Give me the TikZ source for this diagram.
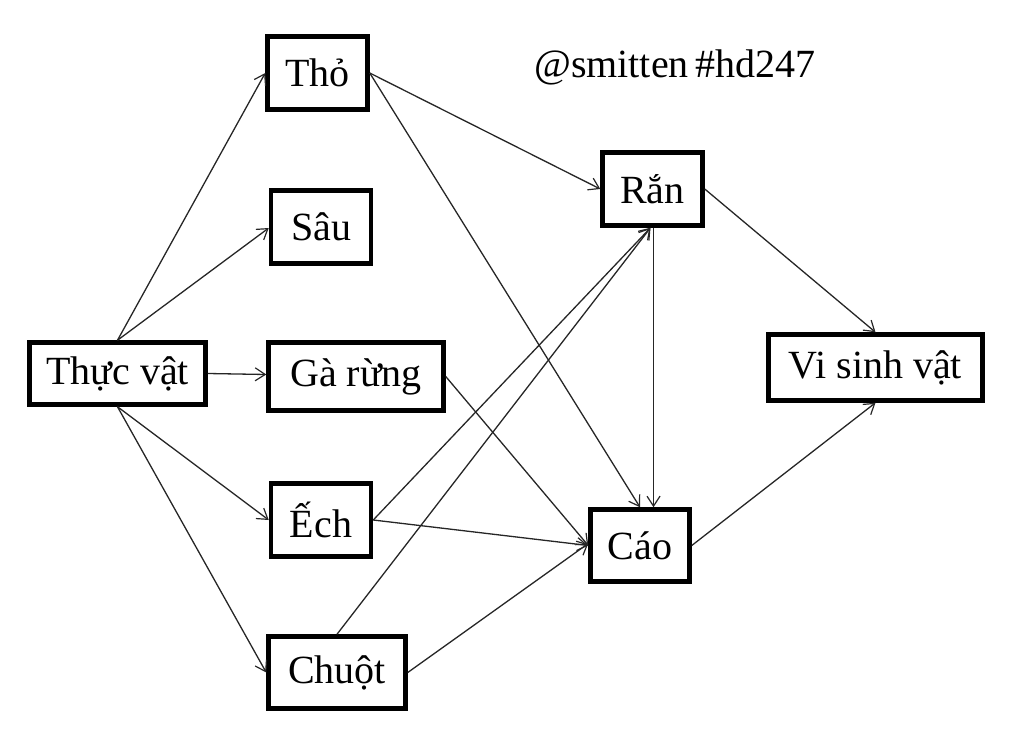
\documentclass[tikz,border=0pt]{standalone}
\usepackage{fontspec}
\setmainfont{Liberation Serif}
\usetikzlibrary{arrows.meta}
\begin{document}
\begin{tikzpicture}[x=1pt,y=-1pt,
  box/.style={draw=black,line width=4.5pt,rectangle,inner sep=0pt,
    font=\fontsize{40}{48}\selectfont},
  link/.style={draw=black!85,line width=1.3pt,-{Straight Barb[length=10pt,width=13pt,line width=1.2pt]}}]
\useasboundingbox (0,0) rectangle (1024,733);
\node[box,minimum width=100pt,minimum height=73pt] (tho) at (317.5,73) {Thỏ};
\node[box,minimum width=100pt,minimum height=73pt] (sau) at (321,227) {Sâu};
\node[box,minimum width=176pt,minimum height=62pt] (tv) at (117.5,373.5) {Thực vật};
\node[box,minimum width=175pt,minimum height=68pt] (gr) at (356,376.5) {Gà rừng};
\node[box,minimum width=100pt,minimum height=73pt] (ech) at (321,520) {Ếch};
\node[box,minimum width=137pt,minimum height=72pt] (chuot) at (337,672.5) {Chuột};
\node[box,minimum width=100pt,minimum height=73pt] (ran) at (652.5,189) {Rắn};
\node[box,minimum width=214pt,minimum height=66pt] (vsv) at (875.5,367.5) {Vi sinh vật};
\node[box,minimum width=99pt,minimum height=72pt] (cao) at (640,545.5) {Cáo};
\node[anchor=base west,inner sep=0pt,font=\fontsize{40}{48}\selectfont] (tag) at (534,78) {@smitten\,\#hd247};
\draw[link] (tv.north) -- (tho.west);
\draw[link] (tv.north) -- ([yshift=-1pt]sau.west);
\draw[link] (tv.east) -- ([yshift=2pt]gr.west);
\draw[link] (tv.south) -- (ech.west);
\draw[link] (tv.south) -- (chuot.west);
\draw[link] (tho.east) -- (ran.west);
\draw[link] (tho.east) -- (cao.north);
\draw[link] (gr.east) -- (cao.west);
\draw[link] (ech.east) -- ([xshift=-2pt]ran.south);
\draw[link] (ech.east) -- (cao.west);
\draw[link] (chuot.north) -- ([xshift=-2pt]ran.south);
\draw[link] (chuot.east) -- ([yshift=2pt]cao.west);
\draw[link] ([xshift=1pt]ran.south) -- ([xshift=1pt]ran.south |- cao.north);
\draw[link] (ran.east) -- (vsv.north);
\draw[link] (cao.east) -- (vsv.south);
\end{tikzpicture}
\end{document}
